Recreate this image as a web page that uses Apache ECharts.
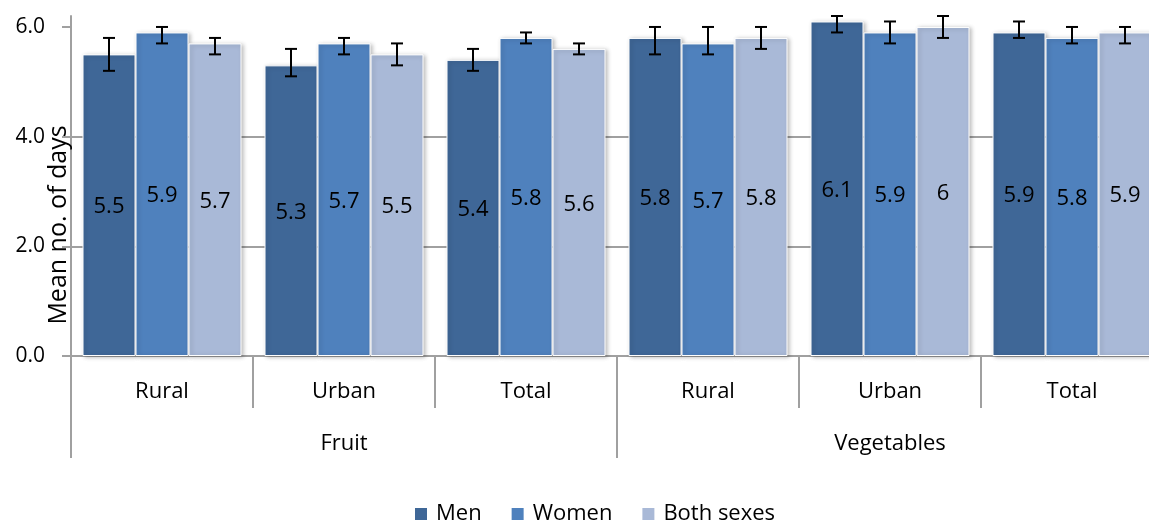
<!DOCTYPE html>
<html>
<head>
<meta charset="utf-8">
<script src="https://cdn.jsdelivr.net/npm/echarts@6/dist/echarts.min.js"></script>
<style>
html,body{margin:0;padding:0;background:#fff;}
#chart{width:1149px;height:523px;}
</style>
</head>
<body>
<div id="chart"></div>
<script>
// ---- data ----
const categories = ['Rural', 'Urban', 'Total', 'Rural', 'Urban', 'Total'];
const groups = ['Fruit', 'Vegetables'];
const seriesNames = ['Men', 'Women', 'Both sexes'];
const men   = [5.5, 5.3, 5.4, 5.8, 6.1, 5.9];
const women = [5.9, 5.7, 5.8, 5.7, 5.9, 5.8];
const both  = [5.7, 5.5, 5.6, 5.8, 6, 5.9];
const menLow    = [5.2, 5.1, 5.2, 5.5, 5.9, 5.8];
const menHigh   = [5.8, 5.6, 5.6, 6.0, 6.2, 6.1];
const womenLow  = [5.7, 5.5, 5.7, 5.5, 5.7, 5.7];
const womenHigh = [6.0, 5.8, 5.9, 6.0, 6.1, 6.0];
const bothLow   = [5.5, 5.3, 5.5, 5.6, 5.8, 5.7];
const bothHigh  = [5.8, 5.7, 5.7, 6.0, 6.2, 6.0];
const yTicks = [0, 2, 4, 6];

// ---- chart ----
const FONT = '"Open Sans", "Noto Sans", sans-serif';
const colors = ['#3F6797', '#4F81BD', '#A9B9D7'];
const BAR_W = 53;
const values = [men, women, both];
const lows = [menLow, womenLow, bothLow];
const highs = [menHigh, womenHigh, bothHigh];

const chart = echarts.init(document.getElementById('chart'), null, {renderer: 'canvas'});

const barSeries = values.map((vals, k) => ({
  name: seriesNames[k],
  type: 'bar',
  xAxisIndex: 0,
  barWidth: BAR_W,
  barGap: '0%',
  data: vals,
  itemStyle: {
    color: colors[k],
    borderColor: '#ffffff',
    borderWidth: 1,
    shadowColor: 'rgba(0,0,0,0.25)',
    shadowBlur: 4,
    shadowOffsetX: 2,
    shadowOffsetY: 1
  },
  label: {
    show: true,
    position: 'inside',
    color: '#000',
    fontFamily: FONT,
    fontSize: 22,
    offset: [0, 2]
  },
  z: 2
}));

const errSeries = values.map((vals, k) => ({
  name: 'err' + k,
  type: 'custom',
  xAxisIndex: 0,
  z: 5,
  silent: true,
  data: vals.map((v, i) => [i, lows[k][i], highs[k][i]]),
  encode: {x: 0, y: [1, 2]},
  renderItem: function (params, api) {
    const i = api.value(0);
    const lo = api.coord([i, api.value(1)]);
    const hi = api.coord([i, api.value(2)]);
    const x = lo[0] + (k - 1) * BAR_W;
    const cap = 6;
    const st = {stroke: '#000', lineWidth: 2};
    return {
      type: 'group',
      children: [
        {type: 'line', shape: {x1: x, y1: hi[1], x2: x, y2: lo[1]}, style: st},
        {type: 'line', shape: {x1: x - cap, y1: hi[1], x2: x + cap, y2: hi[1]}, style: st},
        {type: 'line', shape: {x1: x - cap, y1: lo[1], x2: x + cap, y2: lo[1]}, style: st}
      ]
    };
  }
}));

const option = {
  animation: false,
  backgroundColor: '#ffffff',
  color: colors,
  grid: {left: 71, top: 16, width: 1092, height: 340, containLabel: false, outerBoundsMode: 'none'},
  legend: {
    data: seriesNames,
    left: 408,
    top: 497,
    icon: 'rect',
    itemWidth: 14,
    itemHeight: 14,
    itemGap: 28,
    textStyle: {fontFamily: FONT, fontSize: 22, color: '#000', lineHeight: 24, padding: [0, 0, 0, 3]}
  },
  xAxis: [
    {
      type: 'category',
      data: categories,
      position: 'bottom',
      axisLine: {show: true, lineStyle: {color: '#a0a0a0', width: 2}},
      axisTick: {show: true, interval: 0, length: 52, lineStyle: {color: '#a0a0a0', width: 2}},
      axisLabel: {interval: 0, margin: 25, fontFamily: FONT, fontSize: 22, color: '#000', lineHeight: 22},
      splitLine: {show: false}
    },
    {
      type: 'category',
      data: groups,
      position: 'bottom',
      offset: 0,
      axisLine: {show: false},
      axisTick: {show: true, interval: 0, length: 102, lineStyle: {color: '#a0a0a0', width: 2}},
      axisLabel: {interval: 0, margin: 77, fontFamily: FONT, fontSize: 22, color: '#000', lineHeight: 22},
      splitLine: {show: false}
    }
  ],
  yAxis: {
    type: 'value',
    min: 0,
    max: 6.2,
    interval: 2,
    axisLine: {show: true, lineStyle: {color: '#a0a0a0', width: 2}},
    axisTick: {show: true, length: 9, customValues: yTicks, lineStyle: {color: '#a0a0a0', width: 2}},
    axisLabel: {
      margin: 26,
      customValues: yTicks,
      fontFamily: FONT,
      fontSize: 21,
      color: '#000',
      formatter: v => Number(v).toFixed(1)
    },
    splitLine: {show: true, showMaxLine: false, lineStyle: {color: '#a0a0a0', width: 2}}
  },
  graphic: [{
    type: 'text',
    x: 59,
    y: 225,
    rotation: Math.PI / 2,
    z: 10,
    style: {
      text: 'Mean no. of days',
      font: '25px ' + FONT,
      fill: '#000',
      textAlign: 'center',
      textVerticalAlign: 'middle'
    }
  }],
  series: barSeries.concat(errSeries)
};
chart.setOption(option);
</script>
</body>
</html>
